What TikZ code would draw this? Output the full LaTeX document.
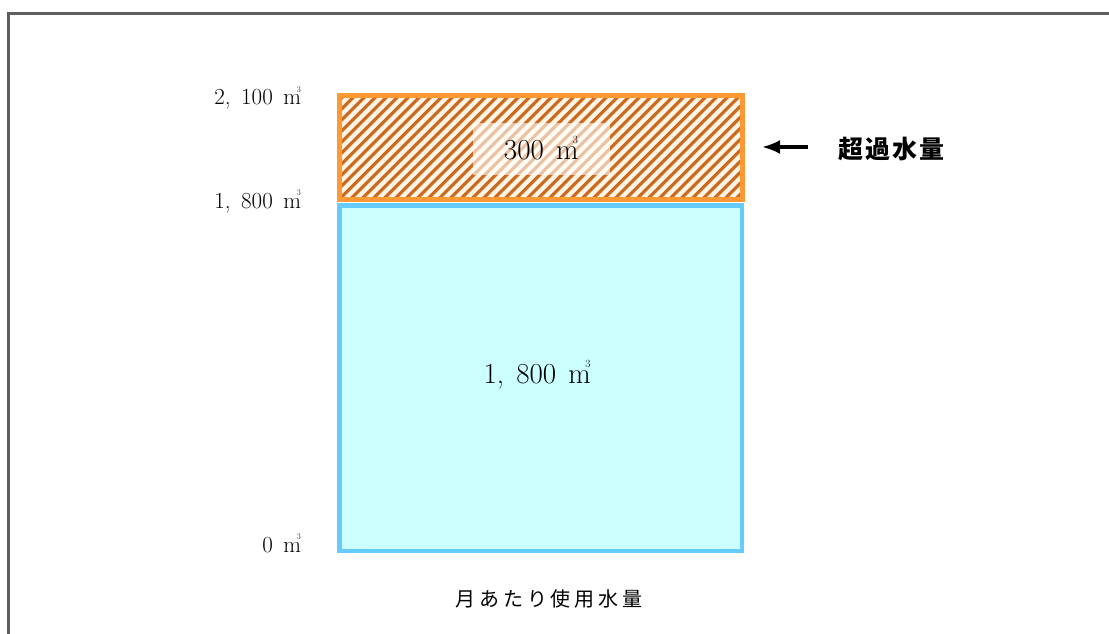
\documentclass[tikz,border=0pt]{standalone}
\usepackage{fontspec}
\usepackage{graphicx}
\usetikzlibrary{arrows.meta}
\newfontfamily\jpspaced[LetterSpace=19]{Noto Sans CJK JP}
\newfontfamily\jpbig[LetterSpace=8]{Noto Sans CJK JP}
\newcommand\cubicm{m\kern-0.19em\raisebox{0.53em}{\scalebox{0.38}{3}}}
\newcommand\wsp{\hspace{0.42em}}
\newcommand\asp{\hspace{0.46em}}
\definecolor{framegray}{HTML}{5E5E5E}
\definecolor{exborder}{HTML}{FF9933}
\definecolor{exstripe}{HTML}{CC6A20}
\definecolor{exback}{HTML}{FFF5E6}
\definecolor{baseborder}{HTML}{66CCFF}
\definecolor{basefill}{HTML}{CCFFFF}
\tikzset{
  axislbl/.style={anchor=base east, inner sep=0pt, font=\fontsize{23}{23}\selectfont},
  biglbl/.style={anchor=base, inner sep=0pt, font=\fontsize{29}{29}\selectfont},
  stripe/.style={draw=exstripe, line width=3.2pt},
  excessbox/.style={draw=exborder, line width=5pt, fill=exback, inner sep=0pt,
    minimum width=402.5pt, minimum height=103.4pt,
    path picture={\foreach \i in {-14,...,40}{
      \draw[stripe] ([xshift=\i*11pt]path picture bounding box.south west) -- ++(160pt,160pt);}}},
  basebox/.style={draw=baseborder, line width=4.5pt, fill=basefill, inner sep=0pt,
    minimum width=402.7pt, minimum height=345.3pt},
  veil/.style={fill=white, fill opacity=0.6, inner sep=0pt, minimum width=137pt, minimum height=52pt},
  pointer/.style={line width=3.2pt, -{Latex[length=18pt,width=14pt]}},
  frameline/.style={draw=framegray, line width=3pt}
}
\begin{document}
\begin{tikzpicture}[x=1pt,y=-1pt]
\useasboundingbox (0,0) rectangle (1109,633);
\clip (0,0) rectangle (1109,633);
% outer frame (cut off at right and bottom)
\draw[frameline] (8.5,650) -- (8.5,13.5) -- (1120,13.5);
% bars
\node[basebox] (base) at (540.65,378.15) {};
\node[excessbox] (excess) at (540.75,147.5) {};
\node[veil] (veil) at (541.5,149) {};
\node[biglbl] (exval) at (541,159.3) {300\wsp\cubicm};
\node[biglbl] (baseval) at (537,383.3) {1,\wsp800\wsp\cubicm};
% axis labels
\node[axislbl] (top) at (301,104.5) {2,\asp100\asp\cubicm};
\node[axislbl] (mid) at (301,208) {1,\asp800\asp\cubicm};
\node[axislbl] (zero) at (301,552) {0\asp\cubicm};
% excess label and arrow
\node[inner sep=0pt, font=\jpbig\bfseries\fontsize{25}{25}\selectfont] (exlbl) at (891,149) {超過水量};
\coordinate (arrstart) at (808,147);
\coordinate (arrtip) at (762,147);
\draw[pointer] (arrstart) -- (arrtip);
% category label
\node[inner sep=0pt, font=\jpspaced\fontsize{20}{20}\selectfont] (cat) at (549,599) {月あたり使用水量};
\end{tikzpicture}
\end{document}
